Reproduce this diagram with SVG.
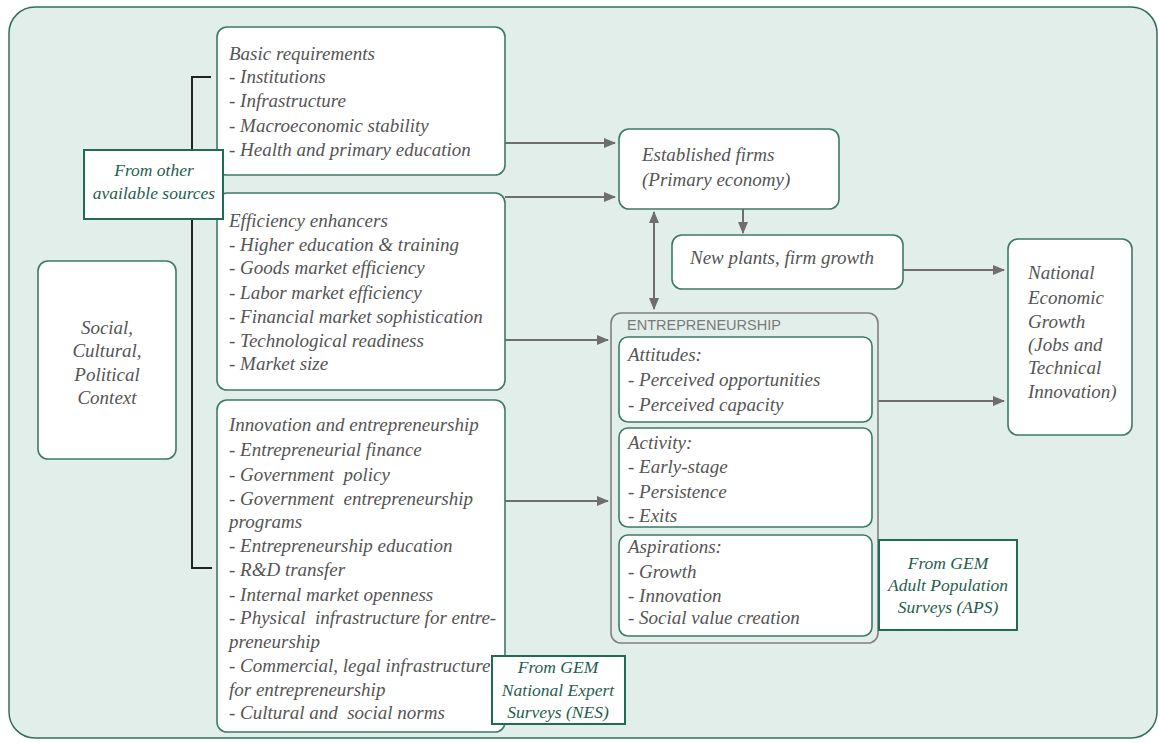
<svg xmlns="http://www.w3.org/2000/svg" width="1158" height="743" viewBox="0 0 1158 743">
<style>
.bg{fill:#e2eeea;stroke:#2e7060;stroke-width:1.5}
.box{fill:#fff;stroke:#3d7a68;stroke-width:1.6}
.ent{fill:#e2eeea;stroke:#808080;stroke-width:1.6}
.src{fill:#fff;stroke:#1f6b57;stroke-width:2}
text{white-space:pre}
.t{font-family:"Liberation Serif","Times New Roman",serif;font-style:italic;font-size:19px;fill:#555}
.s{font-family:"Liberation Serif","Times New Roman",serif;font-style:italic;font-size:17.5px;fill:#1f5e4e;text-anchor:middle}
.c{text-anchor:middle}
.lab{font-family:"Liberation Sans",Arial,sans-serif;font-size:14.5px;fill:#7a7a7a}
.ar{stroke:#6e6e6e;stroke-width:2;fill:none}
.br{stroke:#222;stroke-width:2;fill:none}
</style>
<defs>
<marker id="ah" markerWidth="12" markerHeight="10" refX="11" refY="5" orient="auto-start-reverse" markerUnits="userSpaceOnUse">
<path d="M0,0 L12,5 L0,10 Z" fill="#6e6e6e"/>
</marker>
</defs>
<rect class="bg" x="9" y="7" width="1148" height="731" rx="26"/>

<g id="connectors">
<path class="br" d="M211,77 H192 V568 H212"/>
<line class="ar" x1="505" y1="143" x2="615" y2="143" marker-end="url(#ah)"/>
<line class="ar" x1="505" y1="197" x2="615" y2="197" marker-end="url(#ah)"/>
<line class="ar" x1="743" y1="209" x2="743" y2="233" marker-end="url(#ah)"/>
<line class="ar" x1="654" y1="212" x2="654" y2="309" marker-start="url(#ah)" marker-end="url(#ah)"/>
<line class="ar" x1="903" y1="270" x2="1004" y2="270" marker-end="url(#ah)"/>
<line class="ar" x1="505" y1="340" x2="608" y2="340" marker-end="url(#ah)"/>
<line class="ar" x1="505" y1="501" x2="608" y2="501" marker-end="url(#ah)"/>
<line class="ar" x1="878" y1="401" x2="1004" y2="401" marker-end="url(#ah)"/>
</g>

<g id="basic">
<rect class="box" x="217" y="27" width="288" height="148" rx="10"/>
<text class="t" x="229" y="60">Basic requirements</text>
<text class="t" x="229" y="83">- Institutions</text>
<text class="t" x="229" y="107">- Infrastructure</text>
<text class="t" x="229" y="132">- Macroeconomic stability</text>
<text class="t" x="229" y="156">- Health and primary education</text>
</g>

<g id="efficiency">
<rect class="box" x="217" y="193" width="288" height="197" rx="10"/>
<text class="t" x="229" y="227">Efficiency enhancers</text>
<text class="t" x="229" y="251">- Higher education &amp; training</text>
<text class="t" x="229" y="274">- Goods market efficiency</text>
<text class="t" x="229" y="299">- Labor market efficiency</text>
<text class="t" x="229" y="323">- Financial market sophistication</text>
<text class="t" x="229" y="347">- Technological readiness</text>
<text class="t" x="229" y="370">- Market size</text>
</g>

<g id="innovation">
<rect class="box" x="217" y="400" width="288" height="332" rx="10"/>
<text class="t" x="229" y="431">Innovation and entrepreneurship</text>
<text class="t" x="229" y="456">- Entrepreneurial finance</text>
<text class="t" x="229" y="481">- Government  policy</text>
<text class="t" x="229" y="505">- Government  entrepreneurship</text>
<text class="t" x="229" y="528">programs</text>
<text class="t" x="229" y="552">- Entrepreneurship education</text>
<text class="t" x="229" y="576">- R&amp;D transfer</text>
<text class="t" x="229" y="601">- Internal market openness</text>
<text class="t" x="229" y="624">- Physical  infrastructure for entre-</text>
<text class="t" x="229" y="648">preneurship</text>
<text class="t" x="229" y="672">- Commercial, legal infrastructure</text>
<text class="t" x="229" y="696">for entrepreneurship</text>
<text class="t" x="229" y="719">- Cultural and  social norms</text>
</g>

<g id="other-sources">
<rect class="src" x="84" y="150" width="139" height="69"/>
<text class="s" x="154" y="176">From other</text>
<text class="s" x="154" y="199">available sources</text>
</g>

<g id="social">
<rect class="box" x="38" y="261" width="138" height="198" rx="10"/>
<text class="t c" x="107" y="334">Social,</text>
<text class="t c" x="107" y="357">Cultural,</text>
<text class="t c" x="107" y="381">Political</text>
<text class="t c" x="107" y="404">Context</text>
</g>

<g id="established">
<rect class="box" x="619" y="129" width="220" height="80" rx="10"/>
<text class="t" x="642" y="161">Established firms</text>
<text class="t" x="642" y="186">(Primary economy)</text>
</g>

<g id="newplants">
<rect class="box" x="672" y="235" width="231" height="54" rx="10"/>
<text class="t" x="690" y="264">New plants, firm growth</text>
</g>

<g id="national">
<rect class="box" x="1008" y="239" width="124" height="196" rx="10"/>
<text class="t" x="1028" y="279">National</text>
<text class="t" x="1028" y="304">Economic</text>
<text class="t" x="1028" y="328">Growth</text>
<text class="t" x="1028" y="351">(Jobs and</text>
<text class="t" x="1028" y="374">Technical</text>
<text class="t" x="1028" y="398">Innovation)</text>
</g>

<g id="entrepreneurship">
<rect class="ent" x="611" y="313" width="267" height="330" rx="10"/>
<text class="lab" x="627" y="330">ENTREPRENEURSHIP</text>
</g>

<g id="attitudes">
<rect class="box" x="619" y="337" width="253" height="85" rx="9"/>
<text class="t" x="628" y="361">Attitudes:</text>
<text class="t" x="628" y="386">- Perceived opportunities</text>
<text class="t" x="628" y="411">- Perceived capacity</text>
</g>

<g id="activity">
<rect class="box" x="619" y="428" width="253" height="99" rx="9"/>
<text class="t" x="628" y="449">Activity:</text>
<text class="t" x="628" y="473">- Early-stage</text>
<text class="t" x="628" y="498">- Persistence</text>
<text class="t" x="628" y="522">- Exits</text>
</g>

<g id="aspirations">
<rect class="box" x="619" y="535" width="253" height="101" rx="9"/>
<text class="t" x="628" y="553">Aspirations:</text>
<text class="t" x="628" y="578">- Growth</text>
<text class="t" x="628" y="602">- Innovation</text>
<text class="t" x="628" y="624">- Social value creation</text>
</g>

<g id="aps">
<rect class="src" x="879" y="540" width="138" height="90"/>
<text class="s" x="948" y="569">From GEM</text>
<text class="s" x="948" y="591">Adult Population</text>
<text class="s" x="948" y="613">Surveys (APS)</text>
</g>

<g id="nes">
<rect class="src" x="492" y="656" width="133" height="68"/>
<text class="s" x="558" y="673">From GEM</text>
<text class="s" x="558" y="696">National Expert</text>
<text class="s" x="558" y="718">Surveys (NES)</text>
</g>
</svg>
